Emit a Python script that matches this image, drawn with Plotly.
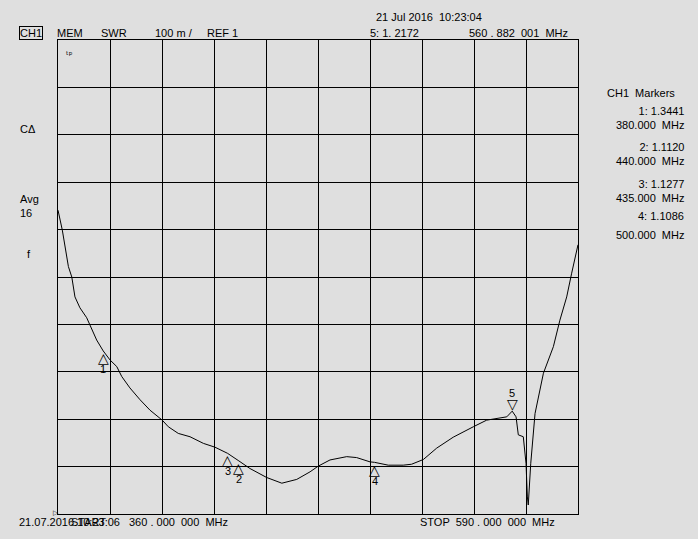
import plotly.graph_objs as go

# SWR trace (MHz, SWR)
freq = [360.0, 361.9, 364.6, 366.1, 367.5, 369.7, 372.7, 374.9, 377.1, 380.0,
        383.0, 386.0, 388.2, 391.8, 396.3, 400.7, 406.1, 408.8, 413.2, 418.4,
        424.3, 429.4, 435.0, 440.0, 444.9, 452.3, 459.0, 465.6, 471.5, 475.1,
        480.3, 487.7, 492.1, 498.0, 500.0, 506.1, 512.7, 516.4, 521.6, 527.5,
        534.8, 543.7, 549.6, 558.5, 560.9, 562.6, 563.6, 565.8, 567.0, 567.6,
        568.0, 569.1, 571.0, 574.7, 579.1, 582.0, 585.0, 587.2, 590.0]
swr = [1.641, 1.599, 1.522, 1.500, 1.458, 1.435, 1.414, 1.392, 1.367, 1.344,
       1.325, 1.311, 1.290, 1.266, 1.241, 1.219, 1.198, 1.184, 1.170, 1.163,
       1.149, 1.141, 1.128, 1.112, 1.096, 1.077, 1.065, 1.073, 1.089, 1.101,
       1.114, 1.121, 1.119, 1.110, 1.109, 1.103, 1.103, 1.105, 1.115, 1.139,
       1.162, 1.184, 1.198, 1.205, 1.217, 1.205, 1.167, 1.163, 1.107, 1.036,
       1.019, 1.107, 1.212, 1.297, 1.353, 1.409, 1.458, 1.508, 1.568]

# markers
mk_num = ['1', '2', '3', '4', '5']
mk_freq = [380.0, 440.0, 435.0, 500.0, 560.882]
mk_swr = [1.3441, 1.1120, 1.1277, 1.1086, 1.2172]

start_f = 360.0
stop_f = 590.0
ref_val = 1.0
per_div = 0.1

bg = '#DFDFDF'
font = dict(family='Liberation Sans, Arial', size=11, color='black')

trace = go.Scatter(x=freq, y=swr, mode='lines',
                   line=dict(color='black', width=1), hoverinfo='skip')

axis_style = dict(showticklabels=False, ticks='', showgrid=True, gridcolor='black',
                  gridwidth=1.2, zeroline=False, showline=True, linecolor='black',
                  linewidth=1.2, mirror=True)

layout = go.Layout(
    width=698, height=539,
    paper_bgcolor=bg, plot_bgcolor=bg,
    margin=dict(l=58, r=120, t=40, b=25),
    showlegend=False,
    font=font,
    xaxis=dict(range=[start_f, stop_f], tick0=start_f, dtick=(stop_f - start_f) / 10,
               **axis_style),
    yaxis=dict(range=[ref_val, ref_val + 10 * per_div], tick0=ref_val, dtick=per_div,
               **axis_style),
)

fig = go.Figure(data=[trace], layout=layout)

# marker triangles with numbers
tri_font = dict(family='DejaVu Sans', size=14, color='black')
for n, f, s in zip(mk_num, mk_freq, mk_swr):
    if n == '5':
        fig.add_annotation(x=f, y=s, text='▽', showarrow=False, yanchor='bottom',
                           font=tri_font, yshift=-3)
        fig.add_annotation(x=f, y=s, text=n, showarrow=False, yanchor='middle',
                           font=font, yshift=18)
    else:
        fig.add_annotation(x=f, y=s, text='△', showarrow=False, yanchor='top',
                           font=tri_font, yshift=3)
        fig.add_annotation(x=f, y=s, text=n, showarrow=False, yanchor='middle',
                           font=font, yshift=-18)


# convert pixel position to paper coords
def px(x):
    return (x - 58) / 520


def py(y):
    return (514 - y) / 474


def txt(x, y, s, anchor='left', **kw):
    fig.add_annotation(xref='paper', yref='paper', x=px(x), y=py(y), text=s,
                       showarrow=False, xanchor=anchor, yanchor='middle', font=font, **kw)


# header
txt(19, 33, 'CH1', bordercolor='black', borderwidth=1, borderpad=0)
txt(55, 33, 'MEM')
txt(99, 33, 'SWR')
txt(153, 33, '100 m /')
txt(205, 33, 'REF 1')
txt(374, 17, '21 Jul 2016  10:23:04')
txt(368, 33, '5: 1. 2172')
txt(467, 33, '560 . 882  001  MHz')

# marker table
txt(641, 93, 'CH1  Markers', anchor='center')
txt(686, 118, '1: 1.3441<br>380.000  MHz', anchor='right', align='right')
txt(686, 154, '2: 1.1120<br>440.000  MHz', anchor='right', align='right')
txt(686, 191, '3: 1.1277<br>435.000  MHz', anchor='right', align='right')
txt(686, 216, '4: 1.1086', anchor='right')
txt(686, 235, '500.000  MHz', anchor='right')

# left side status
txt(18, 129, 'CΔ')
txt(18, 206, 'Avg<br>16', align='left')
txt(25, 254, 'f')
fig.add_annotation(xref='paper', yref='paper', x=px(51), y=py(513), text='▷',
                   showarrow=False, xanchor='left', yanchor='middle',
                   font=dict(family='DejaVu Sans', size=7, color='black'))
fig.add_annotation(xref='paper', yref='paper', x=px(64), y=py(55), text='ᵗᵖ',
                   showarrow=False, xanchor='left', yanchor='middle',
                   font=dict(family='DejaVu Sans', size=9, color='black'))

# footer
txt(17, 522, '21.07.2016 10:23:06')
txt(108, 522, 'START', anchor='right')
txt(127, 522, '360 . 000  000  MHz')
txt(418, 522, 'STOP  590 . 000  000  MHz')

fig.write_html("out.html", config=dict(displayModeBar=False),
               post_script="document.body.style.margin='0';"
                           "document.body.style.background='#DFDFDF';")
